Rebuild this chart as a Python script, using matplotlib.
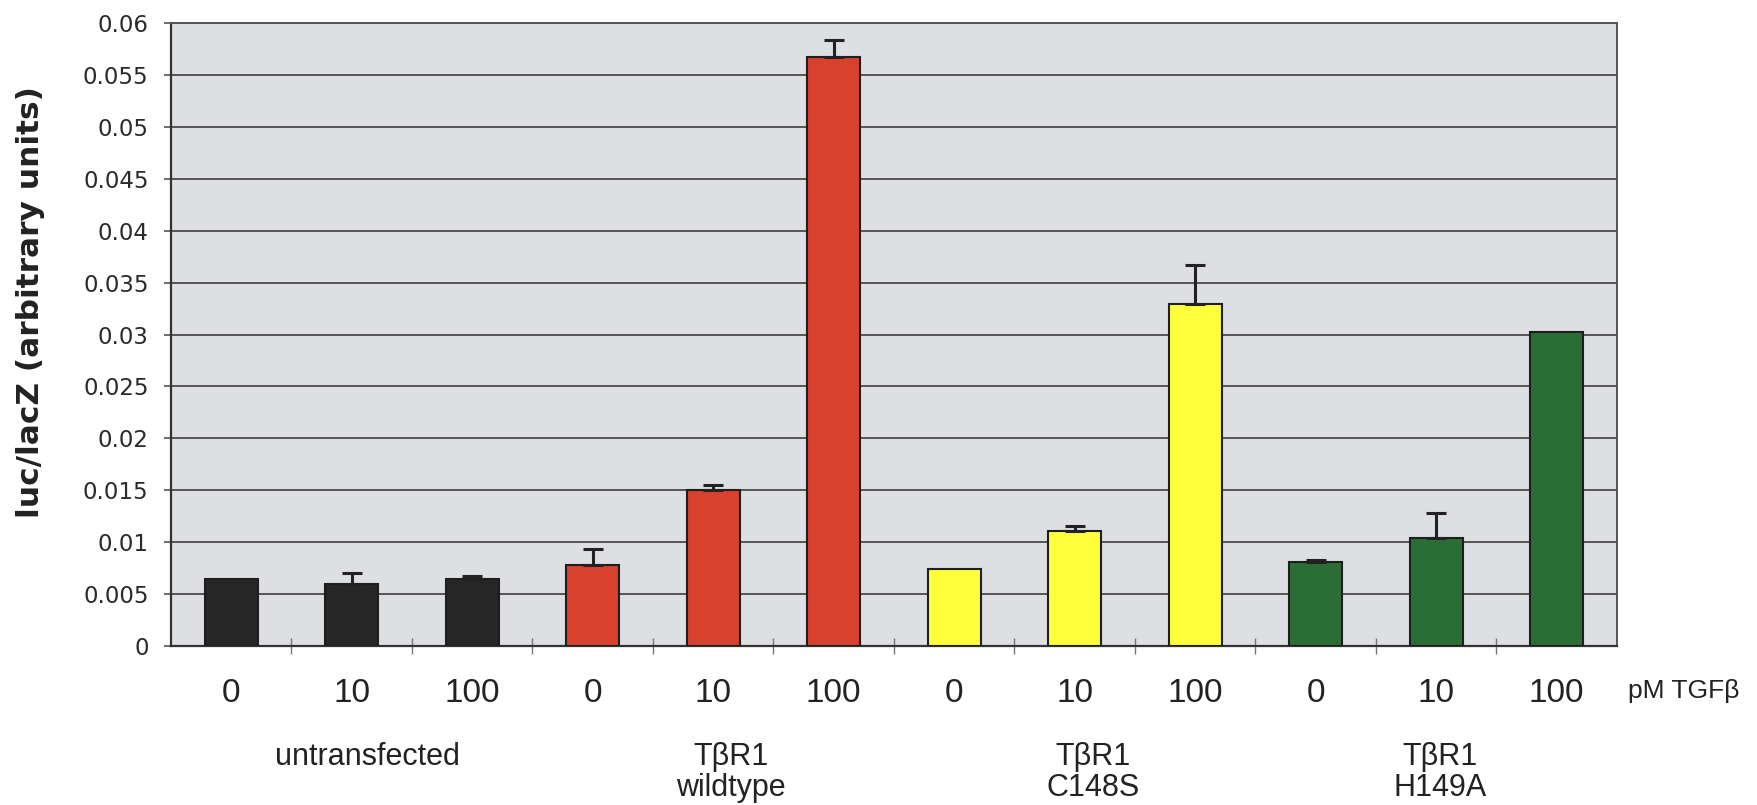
import matplotlib

matplotlib.use("Agg")

import matplotlib.pyplot as plt
import numpy as np

# values (luc/lacZ, arbitrary units)
doses = ["0", "10", "100"]
groups = ["untransfected", "TβR1 wildtype", "TβR1 C148S", "TβR1 H149A"]
group_line1 = ["untransfected", "TβR1", "TβR1", "TβR1"]
group_line2 = ["", "wildtype", "C148S", "H149A"]
group_label_x = [1.13, 4.15, 7.15, 10.03]
group_colors = ["#262626", "#d8412e", "#ffff3c", "#2b6e35"]

untransfected = [0.0065, 0.0060, 0.0065]
wildtype = [0.0078, 0.0150, 0.0567]
c148s = [0.0074, 0.0111, 0.0329]
h149a = [0.0081, 0.0104, 0.0302]

untransfected_err = [0.0, 0.0010, 0.0002]
wildtype_err = [0.0015, 0.0005, 0.0017]
c148s_err = [0.0, 0.0005, 0.0038]
h149a_err = [0.0002, 0.0024, 0.0]

y_ticks = [0, 0.005, 0.01, 0.015, 0.02, 0.025, 0.03, 0.035, 0.04, 0.045, 0.05, 0.055, 0.06]
y_tick_labels = ["0", "0.005", "0.01", "0.015", "0.02", "0.025", "0.03",
                 "0.035", "0.04", "0.045", "0.05", "0.055", "0.06"]


def main():
    values = np.array(untransfected + wildtype + c148s + h149a)
    errors = np.array(untransfected_err + wildtype_err + c148s_err + h149a_err)
    colors = [c for c in group_colors for _ in doses]
    x = np.arange(len(values))

    fig = plt.figure(figsize=(17.57, 8.05), dpi=100)
    ax = fig.add_axes([0.0972, 0.1975, 0.8231, 0.7739])
    ax.set_facecolor("#dedfe3")

    ax.bar(x, values, width=0.44, color=colors, edgecolor="#1e1e1e",
           linewidth=1.5, zorder=3)

    # only upper error bars, as in the original
    has_err = errors > 0
    ax.errorbar(x[has_err], values[has_err],
                yerr=[np.zeros(has_err.sum()), errors[has_err]],
                fmt="none", ecolor="#222222", elinewidth=2.2,
                capsize=7, capthick=2.2, zorder=4)

    ax.set_xlim(-0.5, len(values) - 0.5)
    ax.set_ylim(0, 0.06)

    ax.set_yticks(y_ticks)
    ax.set_yticklabels(y_tick_labels, fontsize=16.5, family="DejaVu Sans",
                       color="#2a2a2a")
    ax.tick_params(axis="y", direction="out", length=5, width=1.2,
                   color="#555555", pad=11)
    ax.yaxis.grid(True, color="#4a4a4a", linewidth=1.3, zorder=1)
    ax.set_axisbelow(True)

    ax.set_xticks(x)
    ax.set_xticklabels(doses * len(groups), fontsize=24,
                       family="Liberation Sans", color="#222222")
    ax.tick_params(axis="x", which="major", length=0, pad=23)
    ax.set_xticks(np.arange(0.5, len(values) - 0.5, 1.0), minor=True)
    ax.tick_params(axis="x", which="minor", direction="inout", length=12,
                   width=1, color="#777777")

    for side in ["left", "bottom"]:
        ax.spines[side].set_color("#333333")
        ax.spines[side].set_linewidth(1.6)
    for side in ["top", "right"]:
        ax.spines[side].set_color("#555555")
        ax.spines[side].set_linewidth(1.4)

    trans = ax.get_xaxis_transform()
    for gx, l1, l2 in zip(group_label_x, group_line1, group_line2):
        ax.text(gx, -0.191, l1, transform=trans, ha="center", va="baseline",
                fontsize=22, family="Liberation Sans", color="#222222")
        if l2:
            ax.text(gx, -0.241, l2, transform=trans, ha="center",
                    va="baseline", fontsize=22, family="Liberation Sans",
                    color="#222222")

    ax.text(11.59, -0.083, "pM TGFβ", transform=trans, ha="left",
            va="baseline", fontsize=19, family="Liberation Sans",
            color="#222222", clip_on=False)

    fig.text(31 / 1757, 1 - 302 / 805, "luc/lacZ (arbitrary units)",
             rotation=90, ha="center", va="center", fontsize=22.5,
             fontweight="bold", family="DejaVu Sans", color="#222222")

    fig.savefig("out.png", dpi=100, facecolor="white")
    plt.close(fig)


if __name__ == "__main__":
    main()
